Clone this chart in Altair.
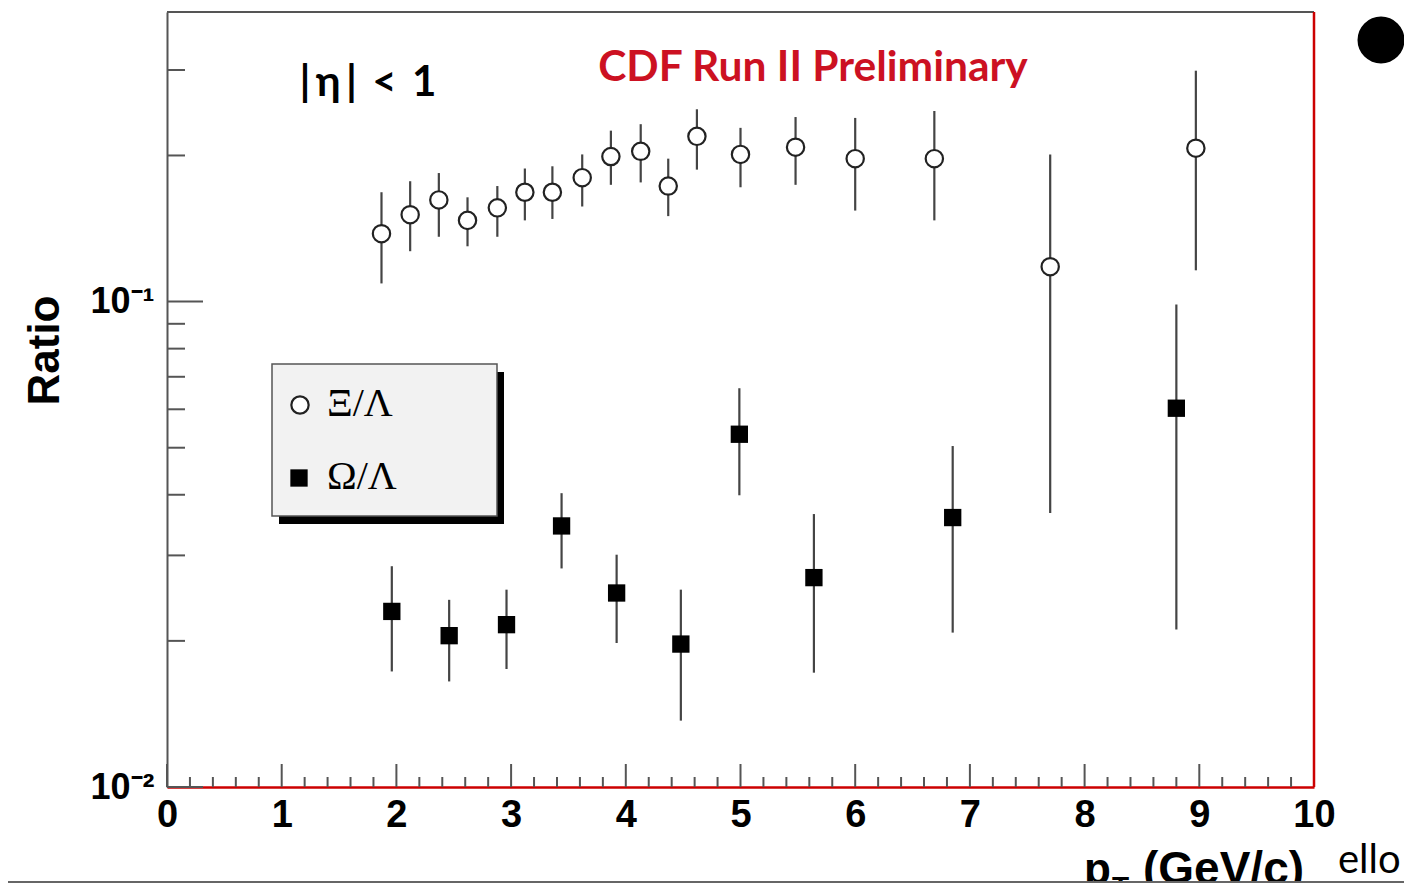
import altair as alt
import pandas as pd

# ---- data ----
xi_pt = [1.87, 2.12, 2.37, 2.62, 2.88, 3.12, 3.36, 3.62, 3.87, 4.13, 4.37, 4.62, 5.00, 5.48, 6.00, 6.69, 7.70, 8.97]
xi_ratio = [0.138, 0.151, 0.162, 0.147, 0.156, 0.168, 0.168, 0.180, 0.199, 0.204, 0.173, 0.219, 0.201, 0.208, 0.197, 0.197, 0.118, 0.207]
xi_hi = [0.168, 0.177, 0.184, 0.164, 0.173, 0.188, 0.190, 0.201, 0.225, 0.232, 0.197, 0.249, 0.228, 0.240, 0.239, 0.247, 0.201, 0.299]
xi_lo = [0.109, 0.127, 0.136, 0.130, 0.136, 0.147, 0.148, 0.157, 0.174, 0.176, 0.150, 0.187, 0.172, 0.174, 0.154, 0.147, 0.0367, 0.116]

om_pt = [1.96, 2.46, 2.96, 3.44, 3.92, 4.48, 4.99, 5.64, 6.85, 8.80]
om_ratio = [0.0230, 0.0205, 0.0216, 0.0345, 0.0251, 0.0197, 0.0533, 0.0270, 0.0359, 0.0603]
om_hi = [0.0285, 0.0243, 0.0255, 0.0403, 0.0301, 0.0255, 0.0663, 0.0365, 0.0504, 0.0986]
om_lo = [0.0173, 0.0165, 0.0175, 0.0282, 0.0198, 0.0137, 0.0399, 0.0172, 0.0208, 0.0211]

x_labels = [0, 1, 2, 3, 4, 5, 6, 7, 8, 9, 10]
x_minor = [round(i * 0.2, 1) for i in range(51) if i % 5 != 0]
y_labels = [0.01, 0.1]
y_minor = [0.02, 0.03, 0.04, 0.05, 0.06, 0.07, 0.08, 0.09, 0.2, 0.3]

xi_df = pd.DataFrame({"pt": xi_pt, "ratio": xi_ratio, "lo": xi_lo, "hi": xi_hi})
om_df = pd.DataFrame({"pt": om_pt, "ratio": om_ratio, "lo": om_lo, "hi": om_hi})
xmaj_df = pd.DataFrame({"v": x_labels})
xmin_df = pd.DataFrame({"v": x_minor})
ymaj_df = pd.DataFrame({"v": y_labels})
ymin_df = pd.DataFrame({"v": y_minor})
one = pd.DataFrame({"a": [0]})

W, H = 1147, 775
AXIS_GRAY = "#555555"
RED = "#cc0000"

xscale = alt.Scale(domain=[0, 10], nice=False, zero=False)
yscale = alt.Scale(type="log", domain=[0.01, 0.395], nice=False)

xaxis = alt.Axis(values=x_labels, ticks=False, tickSize=0, grid=False,
                 domainColor=RED, domainWidth=2.5,
                 labelFont="Liberation Sans", labelFontWeight="bold", labelFontSize=38,
                 labelColor="black", labelPadding=9, labelFlush=False, labelBaseline="top",
                 format="d", title=None)
yaxis = alt.Axis(values=y_labels, ticks=False, tickSize=0, grid=False,
                 domainColor=AXIS_GRAY, domainWidth=2,
                 labelExpr="datum.value < 0.05 ? '10⁻²' : '10⁻¹'",
                 labelFont="Liberation Sans", labelFontWeight="bold", labelFontSize=36,
                 labelColor="black", labelPadding=13, labelFlush=False, labelBaseline="middle",
                 title="Ratio", titleFont="Liberation Sans", titleFontWeight="bold",
                 titleFontSize=44, titleColor="black", titleAngle=270,
                 titleX=-122, titleY=338, titleAlign="center", titleBaseline="middle")


def X(f):
    return alt.X(f, type="quantitative", scale=xscale, axis=xaxis)


def Y(f):
    return alt.Y(f, type="quantitative", scale=yscale, axis=yaxis)


# error bars
xi_err = alt.Chart(xi_df).mark_rule(color="#444444", strokeWidth=2.2).encode(x=X("pt"), y=Y("lo"), y2="hi")
om_err = alt.Chart(om_df).mark_rule(color="#444444", strokeWidth=2.2).encode(x=X("pt"), y=Y("lo"), y2="hi")

xi_pts = alt.Chart(xi_df).mark_point(shape="circle", filled=True, fill="white", stroke="#222222",
                                     strokeWidth=2.2, size=300, opacity=1).encode(x=X("pt"), y=Y("ratio"))
om_pts = alt.Chart(om_df).mark_point(shape="square", filled=True, color="black",
                                     size=300, opacity=1).encode(x=X("pt"), y=Y("ratio"))

# frame: top gray, right red
top_line = alt.Chart(one).mark_rule(color=AXIS_GRAY, strokeWidth=2).encode(
    x=alt.value(0), x2=alt.value(W), y=alt.value(0))
right_line = alt.Chart(one).mark_rule(color=RED, strokeWidth=2.5).encode(
    x=alt.value(W), y=alt.value(0), y2=alt.value(H))

# inward ticks
xt_major = alt.Chart(xmaj_df).mark_rule(color=AXIS_GRAY, strokeWidth=2).encode(
    x=X("v"), y=alt.value(H), y2=alt.value(H - 23))
xt_minor = alt.Chart(xmin_df).mark_rule(color=AXIS_GRAY, strokeWidth=2).encode(
    x=X("v"), y=alt.value(H), y2=alt.value(H - 10))
yt_major = alt.Chart(ymaj_df).mark_rule(color=AXIS_GRAY, strokeWidth=2).encode(
    y=Y("v"), x=alt.value(0), x2=alt.value(36))
yt_minor = alt.Chart(ymin_df).mark_rule(color=AXIS_GRAY, strokeWidth=2).encode(
    y=Y("v"), x=alt.value(0), x2=alt.value(18))

# legend box
shadow = alt.Chart(one).mark_rect(color="black").encode(
    x=alt.value(112), x2=alt.value(337), y=alt.value(360), y2=alt.value(512))
box = alt.Chart(one).mark_rect(fill="#f2f2f2", stroke=AXIS_GRAY, strokeWidth=1.5).encode(
    x=alt.value(105), x2=alt.value(330), y=alt.value(352), y2=alt.value(504))
leg_c = alt.Chart(one).mark_point(shape="circle", filled=True, fill="white", stroke="#222222",
                                  strokeWidth=2.2, size=300, opacity=1).encode(
    x=alt.value(133), y=alt.value(393))
leg_s = alt.Chart(one).mark_point(shape="square", filled=True, color="black", size=300, opacity=1).encode(
    x=alt.value(132), y=alt.value(466))
leg_t1 = alt.Chart(one).mark_text(text="Ξ/Λ", font="Liberation Serif", fontSize=40, align="left",
                                  baseline="alphabetic", color="black").encode(
    x=alt.value(160), y=alt.value(404))
leg_t2 = alt.Chart(one).mark_text(text="Ω/Λ", font="Liberation Serif", fontSize=40, align="left",
                                  baseline="alphabetic", color="black").encode(
    x=alt.value(160), y=alt.value(477))

# annotations
eta = alt.Chart(one).mark_text(text="|\u2009η\u2009|\u2009 <\u2009 1", font="Lato", fontWeight="bold",
                               fontSize=42, align="center", baseline="alphabetic", color="black").encode(
    x=alt.value(201), y=alt.value(84))
cdf = alt.Chart(one).mark_text(text="CDF Run II Preliminary", font="Lato", fontWeight="bold",
                               fontSize=42.5, align="center", baseline="alphabetic", color="#cc1122").encode(
    x=alt.value(646), y=alt.value(69))

# x axis title pieces (cut by the screenshot's lower edge, as in the reference)
xt_p = alt.Chart(one).mark_text(text="p", font="Liberation Sans", fontWeight="bold", fontSize=44,
                                align="left", baseline="alphabetic", color="black").encode(
    x=alt.value(917), y=alt.value(872))
xt_T = alt.Chart(one).mark_text(text="T", font="Liberation Sans", fontWeight="bold", fontSize=28,
                                align="left", baseline="alphabetic", color="black").encode(
    x=alt.value(945), y=alt.value(884))
xt_u = alt.Chart(one).mark_text(text="(GeV/c)", font="Liberation Sans", fontWeight="bold", fontSize=46,
                                align="left", baseline="alphabetic", color="black").encode(
    x=alt.value(976), y=alt.value(872))

# slide decorations
dot = alt.Chart(one).mark_point(shape="circle", filled=True, color="black", size=2209, opacity=1).encode(
    x=alt.value(1214), y=alt.value(28))
ello = alt.Chart(one).mark_text(text="ello", font="Lato", fontSize=40, align="left",
                                baseline="alphabetic", color="black").encode(
    x=alt.value(1171), y=alt.value(861))
bottom_edge = alt.Chart(one).mark_rule(color="#666666", strokeWidth=2).encode(
    x=alt.value(-159), x2=alt.value(1237), y=alt.value(870))

chart = alt.layer(
    shadow, box, leg_c, leg_s, leg_t1, leg_t2,
    xi_err, om_err, xi_pts, om_pts,
    xt_major, xt_minor, yt_major, yt_minor,
    top_line, right_line,
    eta, cdf, xt_p, xt_T, xt_u, dot, ello, bottom_edge,
).properties(
    width=W, height=H,
    padding={"left": 159, "top": 4, "right": 90, "bottom": 96},
    autosize=alt.AutoSizeParams(type="none"),
).configure_view(strokeWidth=0).configure(background="white")

chart.save("out.html", embed_options={"renderer": "svg", "actions": False})
